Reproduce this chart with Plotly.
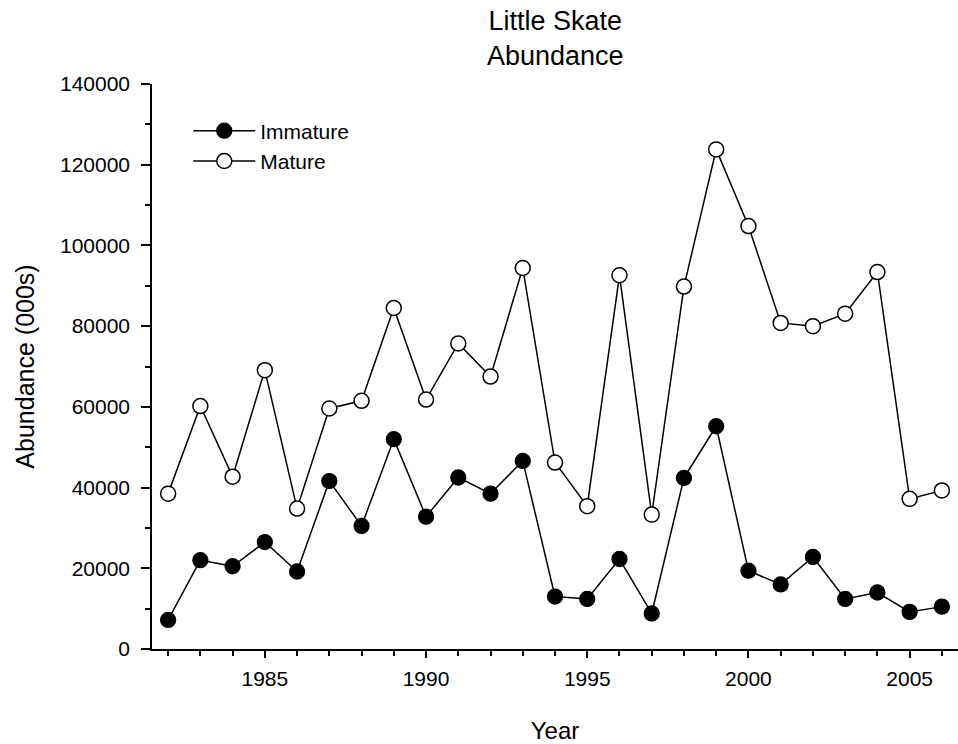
import plotly.graph_objects as go

years = list(range(1982, 2007))
immature = [7200, 22000, 20500, 26500, 19200, 41600, 30500, 52000, 32800, 42500, 38500, 46600,
            13000, 12400, 22300, 8800, 42400, 55200, 19400, 16000, 22800, 12400, 14000, 9200, 10500]
mature = [38500, 60200, 42700, 69100, 34800, 59600, 61500, 84500, 61800, 75700, 67500, 94400,
          46200, 35400, 92600, 33300, 89800, 123800, 104800, 80800, 80000, 83100, 93400, 37200, 39300]

title_text = "Little Skate<br>Abundance"
font = "Liberation Sans, Arial, sans-serif"

fig = go.Figure()
fig.add_trace(go.Scatter(x=years, y=immature, mode="lines+markers", name="Immature",
                         line=dict(color="black", width=1.5),
                         marker=dict(size=15, color="black", line=dict(color="black", width=1.3))))
fig.add_trace(go.Scatter(x=years, y=mature, mode="lines+markers", name="Mature",
                         line=dict(color="black", width=1.5),
                         marker=dict(size=15, color="white", line=dict(color="black", width=1.5))))

fig.add_annotation(text=title_text, xref="paper", yref="paper", x=0.5, y=1.02,
                   xanchor="center", yanchor="bottom", showarrow=False,
                   font=dict(size=27, family=font, color="black"))

fig.update_layout(
    width=958, height=744,
    paper_bgcolor="white", plot_bgcolor="white",
    margin=dict(l=152, r=0, t=84, b=95, autoexpand=False),
    font=dict(family=font, size=21, color="black"),
    showlegend=True,
    legend=dict(x=0.045, y=0.953, xanchor="left", yanchor="top", bgcolor="rgba(0,0,0,0)",
                font=dict(size=21), itemwidth=62, tracegroupgap=0),
    xaxis=dict(range=[1981.5, 2006.5], showgrid=False, zeroline=False, showline=True,
               linecolor="black", linewidth=1.5, ticks="outside", ticklen=7, tickwidth=1.5,
               tickcolor="black", tick0=1985, dtick=5, ticklabelstandoff=3, automargin=False,
               tickfont=dict(size=21),
               minor=dict(ticks="outside", ticklen=5, tickwidth=1.5, tickcolor="black", dtick=1, tick0=1982),
               title=dict(text="Year", font=dict(size=24), standoff=38)),
    yaxis=dict(range=[0, 140000], showgrid=False, zeroline=False, showline=True,
               linecolor="black", linewidth=1.5, ticks="outside", ticklen=9, tickwidth=1.5,
               tickcolor="black", dtick=20000, tickformat="d", automargin=False,
               tickfont=dict(size=21), ticklabelstandoff=7,
               minor=dict(ticks="outside", ticklen=5, tickwidth=1.5, tickcolor="black", dtick=10000),
               title=dict(text="Abundance (000s)", font=dict(size=25), standoff=18)),
)

fig.write_html("out.html", config={"displayModeBar": False},
               post_script="document.body.style.margin='0';document.body.style.overflow='hidden';")
